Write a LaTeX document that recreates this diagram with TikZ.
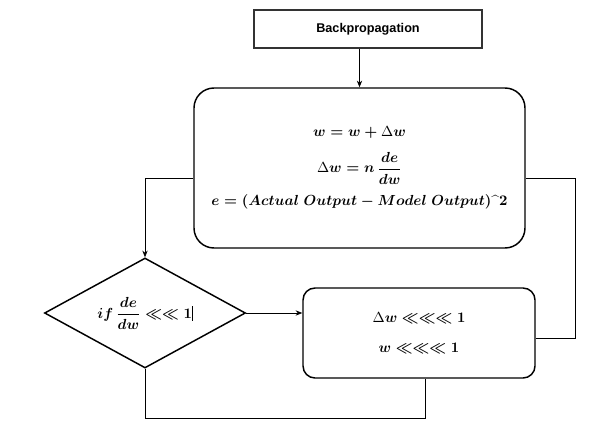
\documentclass[tikz,border=0pt]{standalone}
\usepackage{amsmath}
\usepackage{amssymb}
\usepackage{fontspec}
\newfontfamily\arialfont{Liberation Sans}
\usetikzlibrary{shapes.geometric, arrows.meta}
\newcommand{\dlt}{\text{\unboldmath$\Delta$}}

\begin{document}
\begin{tikzpicture}[x=0.75pt, y=-0.75pt, >={Stealth[length=5pt, width=4pt]},
  conn/.style={line width=0.6pt},
  mathtext/.style={font=\fontsize{10.5}{13}\selectfont\boldmath, align=center},
  titlebox/.style={draw=black!80, line width=1.1pt, inner sep=0pt,
    minimum width=171pt, minimum height=28.5pt, font=\arialfont\bfseries\fontsize{9.5}{11}\selectfont},
  roundbox/.style={draw, line width=1.1pt, inner sep=0pt, mathtext},
  decision/.style={draw, diamond, aspect=1.8, line width=1.1pt, inner sep=0pt,
    minimum width=150.75pt, minimum height=82.5pt, mathtext}]
\useasboundingbox (0, 0) rectangle (598, 424);

\node [titlebox] (bp) at (368, 29) {Backpropagation};
\node [roundbox, rounded corners=15pt, minimum width=248.25pt, minimum height=120pt] (main) at (359.5, 168)
  {$w = w + \dlt w$\\[9pt]
   $\dlt w = n\,\dfrac{de}{dw}$\\[7pt]
   $e = (Actual\ Output - Model\ Output)\text{\bfseries\textasciicircum}\mathbf{2}$};
\node [decision] (dec) at (145, 313)
  {$if\,\dfrac{de}{dw} \ll\ll \mathbf{1}$\rule[-2pt]{0.4pt}{11pt}};
\node [roundbox, rounded corners=9pt, minimum width=174pt, minimum height=67.5pt] (res) at (419, 333)
  {$\dlt w \ll\ll\ll \mathbf{1}$\\[10pt]
   $w \ll\ll\ll \mathbf{1}$};

\coordinate (rturn) at (575, 178);
\coordinate (lturn) at (425, 418);

\draw [->, conn] (bp.south -| main.north) -- (main.north);
\draw [->, conn] ([yshift=-7.5pt]main.west) -| (dec.north);
\draw [->, conn] (dec.east) -- (dec.east -| res.west);
\draw [conn] ([yshift=-3.75pt]res.east) -| (rturn) -- (rturn -| main.east);
\draw [conn] (dec.south) |- (lturn) -- (lturn |- res.south);
\end{tikzpicture}
\end{document}
